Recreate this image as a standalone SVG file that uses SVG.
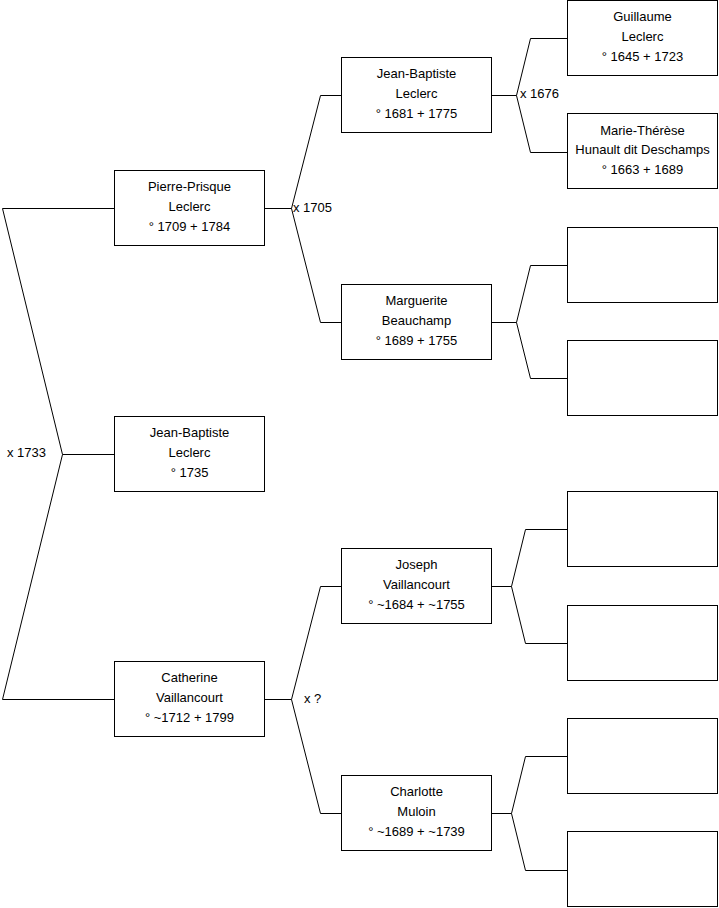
<svg xmlns="http://www.w3.org/2000/svg" width="719" height="908" viewBox="0 0 719 908">
<style>
.box rect{fill:#fff;stroke:#000;stroke-width:1}
text{font-family:"Liberation Sans",Arial,sans-serif;font-size:13px;fill:#000}
.box text{text-anchor:middle}
.conn path{fill:none;stroke:#000;stroke-width:1}
</style>
<rect width="719" height="908" fill="#fff"/>
<g class="conn" id="connectors">
<path d="M114.5 208.5H2.5L62.5 454.5L2.5 699.5H114.5M62.5 454.5H114.5"/>
<path d="M264.5 208.5H291.5L320.5 95.5H341.5M291.5 208.5L320.5 322.5H341.5"/>
<path d="M491.5 95.5H516.5L530.5 38.5H567.5M516.5 95.5L530.5 152.5H567.5"/>
<path d="M491.5 322.5H516.5L530.5 265.5H567.5M516.5 322.5L530.5 378.5H567.5"/>
<path d="M264.5 699.5H291.5L320.5 586.5H341.5M291.5 699.5L320.5 813.5H341.5"/>
<path d="M491.5 586.5H511.5L525.5 529.5H567.5M511.5 586.5L525.5 643.5H567.5"/>
<path d="M491.5 813.5H511.5L525.5 756.5H567.5M511.5 813.5L525.5 870.5H567.5"/>
<text x="7" y="457">x 1733</text>
<text x="293" y="212">x 1705</text>
<text x="520" y="98">x 1676</text>
<text x="304" y="703">x ?</text>
</g>
<g class="box" id="pierre-prisque">
<rect x="114.5" y="170.5" width="150" height="75"/>
<text x="189.5" y="191">Pierre-Prisque</text><text x="189.5" y="211">Leclerc</text><text x="189.5" y="231">° 1709 + 1784</text>
</g>
<g class="box" id="jean-baptiste-1735">
<rect x="114.5" y="416.5" width="150" height="75"/>
<text x="189.5" y="437">Jean-Baptiste</text><text x="189.5" y="457">Leclerc</text><text x="189.5" y="477">° 1735</text>
</g>
<g class="box" id="catherine">
<rect x="114.5" y="661.5" width="150" height="75"/>
<text x="189.5" y="682">Catherine</text><text x="189.5" y="702">Vaillancourt</text><text x="189.5" y="722">° ~1712 + 1799</text>
</g>
<g class="box" id="jean-baptiste-1681">
<rect x="341.5" y="57.5" width="150" height="75"/>
<text x="416.5" y="78">Jean-Baptiste</text><text x="416.5" y="98">Leclerc</text><text x="416.5" y="118">° 1681 + 1775</text>
</g>
<g class="box" id="marguerite">
<rect x="341.5" y="284.5" width="150" height="75"/>
<text x="416.5" y="305">Marguerite</text><text x="416.5" y="325">Beauchamp</text><text x="416.5" y="345">° 1689 + 1755</text>
</g>
<g class="box" id="joseph">
<rect x="341.5" y="548.5" width="150" height="75"/>
<text x="416.5" y="569">Joseph</text><text x="416.5" y="589">Vaillancourt</text><text x="416.5" y="609">° ~1684 + ~1755</text>
</g>
<g class="box" id="charlotte">
<rect x="341.5" y="775.5" width="150" height="75"/>
<text x="416.5" y="796">Charlotte</text><text x="416.5" y="816">Muloin</text><text x="416.5" y="836">° ~1689 + ~1739</text>
</g>
<g class="box" id="guillaume">
<rect x="567.5" y="0.5" width="150" height="75"/>
<text x="642.5" y="21">Guillaume</text><text x="642.5" y="41">Leclerc</text><text x="642.5" y="61">° 1645 + 1723</text>
</g>
<g class="box" id="marie-therese">
<rect x="567.5" y="113.5" width="150" height="75"/>
<text x="642.5" y="135">Marie-Thérèse</text><text x="642.5" y="154">Hunault dit Deschamps</text><text x="642.5" y="174">° 1663 + 1689</text>
</g>
<g class="box" id="empty-1"><rect x="567.5" y="227.5" width="150" height="75"/></g>
<g class="box" id="empty-2"><rect x="567.5" y="340.5" width="150" height="75"/></g>
<g class="box" id="empty-3"><rect x="567.5" y="491.5" width="150" height="75"/></g>
<g class="box" id="empty-4"><rect x="567.5" y="605.5" width="150" height="75"/></g>
<g class="box" id="empty-5"><rect x="567.5" y="718.5" width="150" height="75"/></g>
<g class="box" id="empty-6"><rect x="567.5" y="831.5" width="150" height="75"/></g>
</svg>
